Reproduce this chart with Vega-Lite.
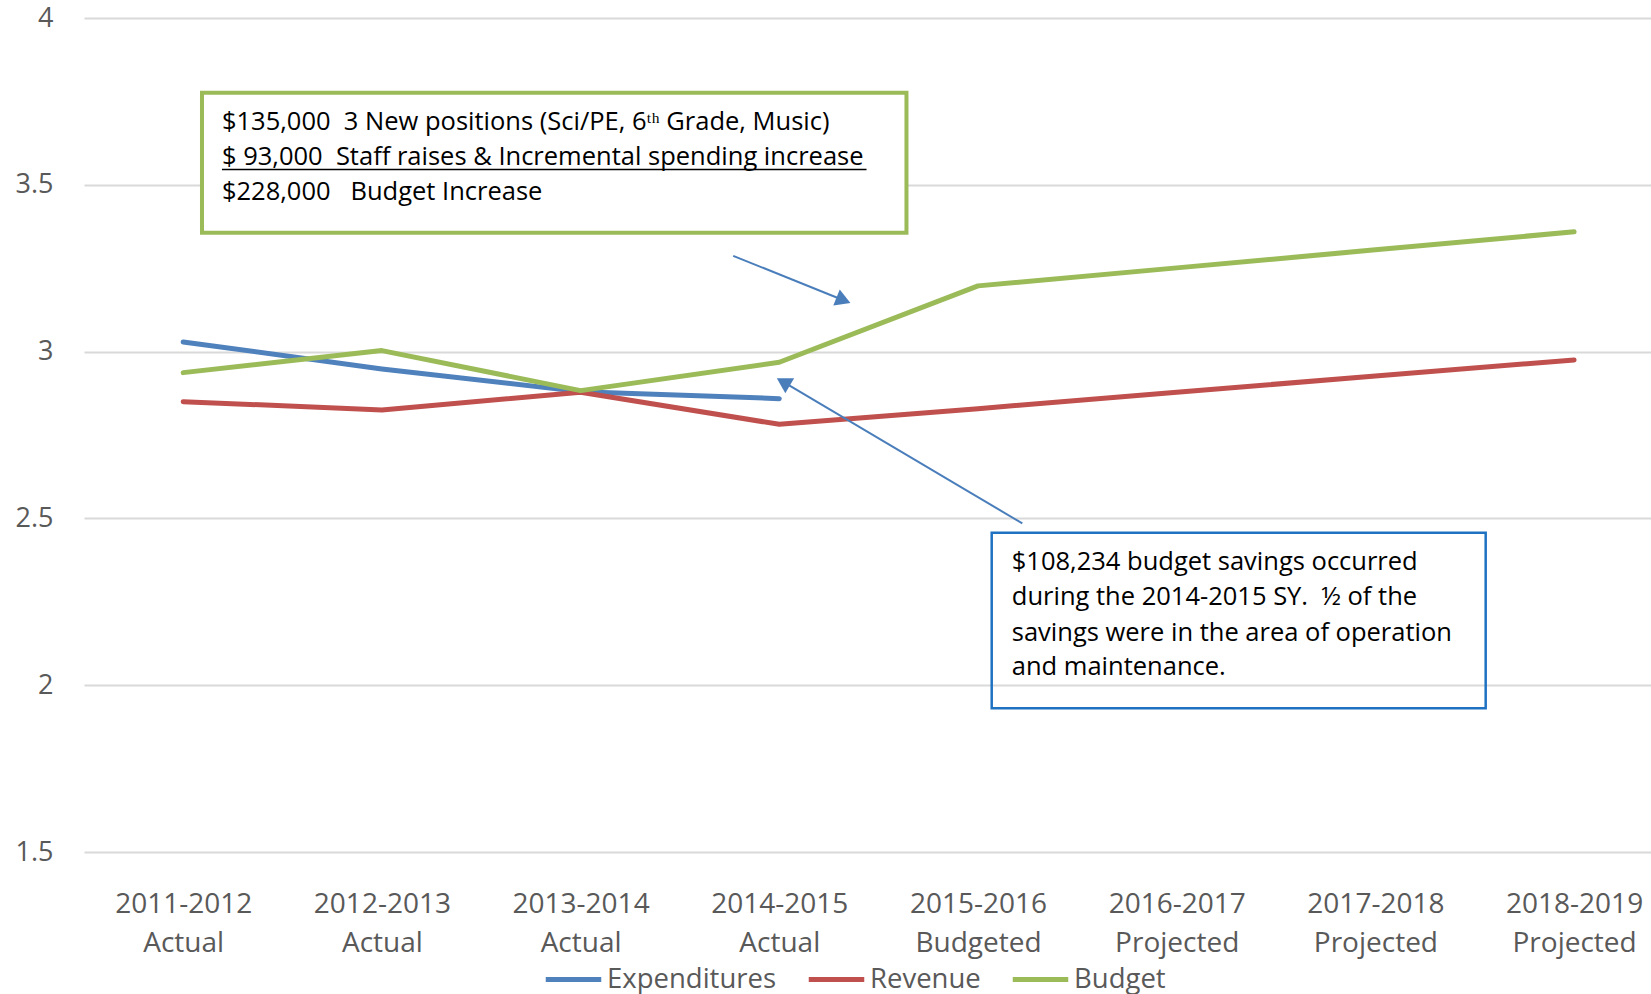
{
  "$schema": "https://vega.github.io/schema/vega-lite/v6.json",
  "width": 1567,
  "height": 834,
  "autosize": {"type": "none"},
  "padding": {"left": 84, "top": 18, "right": 0, "bottom": 142},
  "background": "white",
  "config": {"view": {"stroke": null}, "font": "Open Sans"},
  "layer": [
    {
      "data": {"values": [
        {"idx": 0, "series": "Expenditures", "value": 3.029},
        {"idx": 1, "series": "Expenditures", "value": 2.948},
        {"idx": 2, "series": "Expenditures", "value": 2.880},
        {"idx": 3, "series": "Expenditures", "value": 2.859},
        {"idx": 0, "series": "Revenue", "value": 2.850},
        {"idx": 1, "series": "Revenue", "value": 2.825},
        {"idx": 2, "series": "Revenue", "value": 2.878},
        {"idx": 3, "series": "Revenue", "value": 2.782},
        {"idx": 4, "series": "Revenue", "value": 2.829},
        {"idx": 5, "series": "Revenue", "value": 2.878},
        {"idx": 6, "series": "Revenue", "value": 2.927},
        {"idx": 7, "series": "Revenue", "value": 2.975},
        {"idx": 0, "series": "Budget", "value": 2.937},
        {"idx": 1, "series": "Budget", "value": 3.003},
        {"idx": 2, "series": "Budget", "value": 2.883},
        {"idx": 3, "series": "Budget", "value": 2.968},
        {"idx": 4, "series": "Budget", "value": 3.197},
        {"idx": 5, "series": "Budget", "value": 3.251},
        {"idx": 6, "series": "Budget", "value": 3.305},
        {"idx": 7, "series": "Budget", "value": 3.359}
      ]},
      "mark": {"type": "line", "strokeWidth": 5, "strokeCap": "round", "strokeJoin": "round"},
      "encoding": {
        "x": {
          "field": "idx", "type": "quantitative", "title": null,
          "scale": {"domain": [-0.4992, 7.387], "nice": false, "zero": false},
          "axis": {
            "values": [0, 1, 2, 3, 4, 5, 6, 7],
            "grid": false, "ticks": false, "domain": false, "title": null,
            "labelFont": "Open Sans", "labelFontSize": 28, "labelColor": "#595959",
            "labelPadding": 38, "labelLineHeight": 39,
            "labelFlush": false, "labelOverlap": false, "labelBound": false, "labelLimit": 0,
            "labelExpr": "[['2011-2012','Actual'],['2012-2013','Actual'],['2013-2014','Actual'],['2014-2015','Actual'],['2015-2016','Budgeted'],['2016-2017','Projected'],['2017-2018','Projected'],['2018-2019','Projected']][datum.value]"
          }
        },
        "y": {
          "field": "value", "type": "quantitative", "title": null,
          "scale": {"domain": [1.5, 4], "nice": false, "zero": false},
          "axis": {
            "values": [1.5, 2, 2.5, 3, 3.5, 4], "format": ".1~f",
            "grid": true, "gridColor": "#D9D9D9", "gridWidth": 2,
            "ticks": false, "domain": false, "title": null,
            "labelFont": "Open Sans", "labelFontSize": 27, "labelColor": "#595959", "labelPadding": 31
          }
        },
        "color": {
          "field": "series", "type": "nominal",
          "scale": {"domain": ["Expenditures", "Revenue", "Budget"], "range": ["#4F81BD", "#C0504D", "#9BBB59"]},
          "legend": {
            "title": null, "orient": "none", "legendX": 459, "legendY": 931,
            "direction": "horizontal", "symbolType": "stroke", "symbolSize": 3080,
            "symbolStrokeWidth": 5, "labelFont": "Open Sans", "labelFontSize": 27.5,
            "labelColor": "#595959", "labelOffset": 3, "columnPadding": 21, "padding": 0, "labelLimit": 0
          }
        }
      }
    },
    {
      "data": {"values": [{"x": 0.0946, "x2": 3.640, "y": 3.776, "y2": 3.356}]},
      "mark": {"type": "rect", "fill": "white", "stroke": "#9BBB59", "strokeWidth": 4},
      "encoding": {
        "x": {"field": "x", "type": "quantitative", "title": null},
        "x2": {"field": "x2"},
        "y": {"field": "y", "type": "quantitative", "title": null},
        "y2": {"field": "y2"}
      }
    },
    {
      "data": {"values": [
        {"x": 0.195, "y": 3.688, "label": "$135,000\u00a0\u00a03 New positions (Sci/PE, 6ᵗʰ Grade, Music)"},
        {"x": 0.195, "y": 3.583, "label": "$ 93,000\u00a0\u00a0Staff raises & Incremental spending increase"},
        {"x": 0.195, "y": 3.478, "label": "$228,000\u00a0\u00a0\u00a0Budget Increase"}
      ]},
      "mark": {"type": "text", "align": "left", "baseline": "middle", "font": "Open Sans", "fontSize": 25.5, "color": "#000000"},
      "encoding": {
        "x": {"field": "x", "type": "quantitative", "title": null},
        "y": {"field": "y", "type": "quantitative", "title": null},
        "text": {"field": "label"}
      }
    },
    {
      "data": {"values": [{"x": 0.195, "x2": 3.439, "y": 3.546}]},
      "mark": {"type": "rule", "color": "#000000", "strokeWidth": 1.5},
      "encoding": {
        "x": {"field": "x", "type": "quantitative", "title": null},
        "x2": {"field": "x2"},
        "y": {"field": "y", "type": "quantitative", "title": null}
      }
    },
    {
      "data": {"values": [{"x": 4.069, "x2": 6.555, "y": 2.457, "y2": 1.931}]},
      "mark": {"type": "rect", "fillOpacity": 0, "fill": "white", "stroke": "#1F72C2", "strokeWidth": 2.5},
      "encoding": {
        "x": {"field": "x", "type": "quantitative", "title": null},
        "x2": {"field": "x2"},
        "y": {"field": "y", "type": "quantitative", "title": null},
        "y2": {"field": "y2"}
      }
    },
    {
      "data": {"values": [
        {"x": 4.170, "y": 2.370, "label": "$108,234 budget savings occurred"},
        {"x": 4.170, "y": 2.2635, "label": "during the 2014-2015 SY.\u00a0\u00a0½ of the"},
        {"x": 4.170, "y": 2.1574, "label": "savings were in the area of operation"},
        {"x": 4.170, "y": 2.0554, "label": "and maintenance."}
      ]},
      "mark": {"type": "text", "align": "left", "baseline": "middle", "font": "Open Sans", "fontSize": 25.5, "color": "#000000"},
      "encoding": {
        "x": {"field": "x", "type": "quantitative", "title": null},
        "y": {"field": "y", "type": "quantitative", "title": null},
        "text": {"field": "label"}
      }
    },
    {
      "data": {"values": [{"x": 2.768, "y": 3.287, "x2": 3.323, "y2": 3.154}]},
      "mark": {"type": "rule", "color": "#4A7EBB", "strokeWidth": 2},
      "encoding": {
        "x": {"field": "x", "type": "quantitative", "title": null},
        "x2": {"field": "x2"},
        "y": {"field": "y", "type": "quantitative", "title": null},
        "y2": {"field": "y2"}
      }
    },
    {
      "data": {"values": [{"x": 3.323, "y": 3.154}]},
      "mark": {"type": "point", "shape": "triangle-up", "filled": true, "color": "#4A7EBB", "opacity": 1, "size": 300, "angle": 111.8},
      "encoding": {
        "x": {"field": "x", "type": "quantitative", "title": null},
        "y": {"field": "y", "type": "quantitative", "title": null}
      }
    },
    {
      "data": {"values": [{"x": 4.223, "y": 2.485, "x2": 3.020, "y2": 2.909}]},
      "mark": {"type": "rule", "color": "#4A7EBB", "strokeWidth": 2},
      "encoding": {
        "x": {"field": "x", "type": "quantitative", "title": null},
        "x2": {"field": "x2"},
        "y": {"field": "y", "type": "quantitative", "title": null},
        "y2": {"field": "y2"}
      }
    },
    {
      "data": {"values": [{"x": 3.020, "y": 2.909}]},
      "mark": {"type": "point", "shape": "triangle-up", "filled": true, "color": "#4A7EBB", "opacity": 1, "size": 300, "angle": 300.6},
      "encoding": {
        "x": {"field": "x", "type": "quantitative", "title": null},
        "y": {"field": "y", "type": "quantitative", "title": null}
      }
    }
  ]
}
